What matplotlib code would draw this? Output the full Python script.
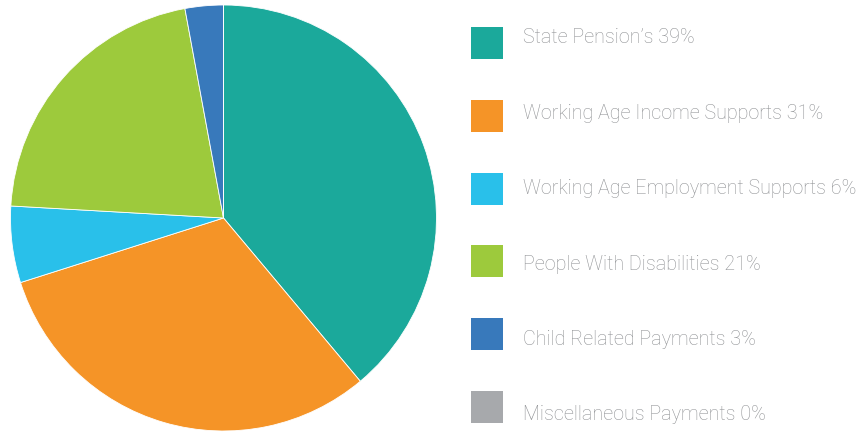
import matplotlib.pyplot as plt
from matplotlib.patches import Rectangle

labels = ["State Pension\u2019s 39%", "Working Age Income Supports 31%",
          "Working Age Employment Supports 6%", "People With Disabilities 21%",
          "Child Related Payments 3%", "Miscellaneous Payments 0%"]
shares = [38.9, 31.2, 5.8, 21.2, 2.9, 0.0]
colors = ["#1ba99b", "#f59427", "#29c0ea", "#9dca3c", "#3879bb", "#a7a9ac"]

W, H = 864, 433
fig = plt.figure(figsize=(W / 100, H / 100), dpi=100)

# pie
ax = fig.add_axes([10.5 / W, 2 / H, 426 / W, 426 / H])
ax.pie(shares, colors=colors, startangle=90, counterclock=False,
       wedgeprops=dict(edgecolor="white", linewidth=0.6))
ax.set_xlim(-1, 1)
ax.set_ylim(-1, 1)
ax.set_aspect("equal")
ax.axis("off")

# legend, in pixel coords
lax = fig.add_axes([0, 0, 1, 1])
lax.set_xlim(0, W)
lax.set_ylim(H, 0)
lax.axis("off")
for i, (lab, c) in enumerate(zip(labels, colors)):
    ytop = 26.7 + i * 72.9
    lax.add_patch(Rectangle((471, ytop), 32, 32, color=c, lw=0))
    lax.text(523, 43.3 + i * 75.4, lab, va="baseline", ha="left", fontsize=14.2,
             color="#8f9194", family="Roboto", fontweight="light")

fig.savefig("out.png", dpi=100)
